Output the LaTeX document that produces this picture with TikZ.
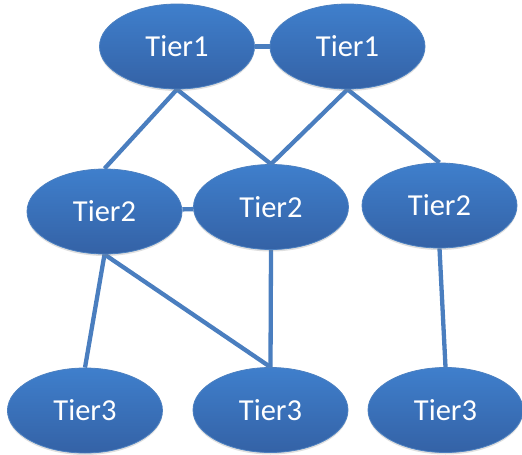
\documentclass[tikz,border=0pt]{standalone}
\usepackage{fontspec}
\setmainfont{Carlito}
\usetikzlibrary{shapes.geometric,shadows,backgrounds}
\definecolor{linkblue}{HTML}{4A7EBF}
\definecolor{topblue}{HTML}{3F7FCC}
\definecolor{botblue}{HTML}{3462A6}
\definecolor{rimblue}{HTML}{4C80C0}
\tikzset{
  tier/.style={ellipse, minimum width=155pt, minimum height=85pt, inner sep=0pt,
    top color=topblue, bottom color=botblue, draw=rimblue, line width=0.8pt,
    text=white, font=\fontsize{30.5}{30.5}\selectfont,
    drop shadow={opacity=0.25, shadow xshift=0pt, shadow yshift=-2pt}},
  link/.style={draw=linkblue, line width=4.3pt}
}
\begin{document}
\begin{tikzpicture}[x=1pt,y=-1pt]
\useasboundingbox (0,0) rectangle (522,455);
\node[tier] (t1l) at (177,46.5) {Tier1};
\node[tier] (t1r) at (347.5,46.5) {Tier1};
\node[tier] (t2l) at (104.5,211.5) {Tier2};
\node[tier] (t2m) at (271,207) {Tier2};
\node[tier] (t2r) at (439.5,205.5) {Tier2};
\node[tier] (t3l) at (85,410.5) {Tier3};
\node[tier] (t3m) at (270.5,410) {Tier3};
\node[tier] (t3r) at (445.5,410) {Tier3};
\begin{pgfonlayer}{background}
\draw[link] (t1l) -- (t1r);
\draw[link] (t1l.south) -- (t2l.north);
\draw[link] (t1l.south) -- (t2m.north);
\draw[link] (t1r.south) -- (t2m.north);
\draw[link] (t1r.south) -- (t2r.north);
\draw[link] (t2l) -- (t2m);
\draw[link] (t2l.south) -- (t3l.north);
\draw[link] (t2l.south) -- (t3m.north);
\draw[link] (t2m.south) -- (t3m.north);
\draw[link] (t2r.south) -- (t3r.north);
\end{pgfonlayer}
\end{tikzpicture}
\end{document}
